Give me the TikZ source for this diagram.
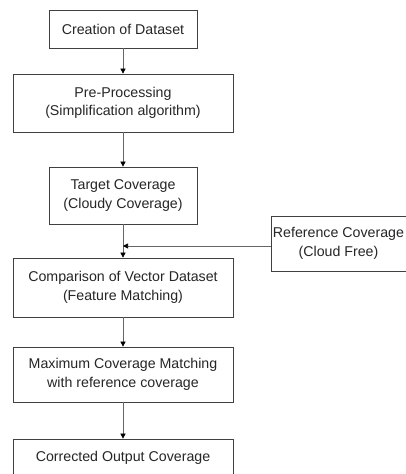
\documentclass[tikz,border=0pt]{standalone}
\usepackage{fontspec}
\setmainfont{Liberation Sans}
\usetikzlibrary{arrows.meta}
\begin{document}
\begin{tikzpicture}[x=1pt,y=-1pt,
  flowbox/.style={draw=black!75, line width=0.7pt, align=center, inner sep=0pt,
    font=\fontsize{14.2}{18.5}\selectfont, text=black!85},
  flowtext/.style={align=center, inner sep=0pt,
    font=\fontsize{14.2}{18.5}\selectfont, text=black!85},
  flowarrow/.style={draw=black!60, line width=0.6pt,
    -{Triangle[width=5pt,length=5pt,color=black]}}]
\useasboundingbox (0,0) rectangle (406,474);
\clip (0,0) rectangle (406,474);
\fill[white] (0,0) rectangle (406,474);
\node[flowbox, minimum width=148pt, minimum height=38pt] (b1) at (123,29) {Creation of Dataset};
\node[flowbox, minimum width=220pt, minimum height=58pt] (b2) at (123,103) {Pre-Processing\\(Simplification algorithm)};
\node[flowbox, minimum width=148pt, minimum height=57pt] (b3) at (123,195.5) {Target Coverage\\(Cloudy Coverage)};
\node[flowbox, minimum width=144pt, minimum height=55pt] (ref) at (343,243.5) {};
\node[flowtext] (reftext) at (338.5,243.5) {Reference Coverage\\(Cloud Free)};
\node[flowbox, minimum width=220pt, minimum height=59pt] (b4) at (123,287.5) {Comparison of Vector Dataset\\(Feature Matching)};
\node[flowbox, minimum width=220pt, minimum height=55pt] (b5) at (123,374.5) {Maximum Coverage Matching\\with reference coverage};
\node[flowbox, minimum width=220pt, minimum height=38pt] (b6) at (123,458) {Corrected Output Coverage};
\coordinate (join) at (123,246);
\draw[flowarrow] (b1) -- (b2);
\draw[flowarrow] (b2) -- (b3);
\draw[flowarrow] (b3) -- (b4);
\draw[flowarrow] (ref.west |- join) -- (join);
\draw[flowarrow] (b4) -- (b5);
\draw[flowarrow] (b5) -- (b6);
\end{tikzpicture}
\end{document}
